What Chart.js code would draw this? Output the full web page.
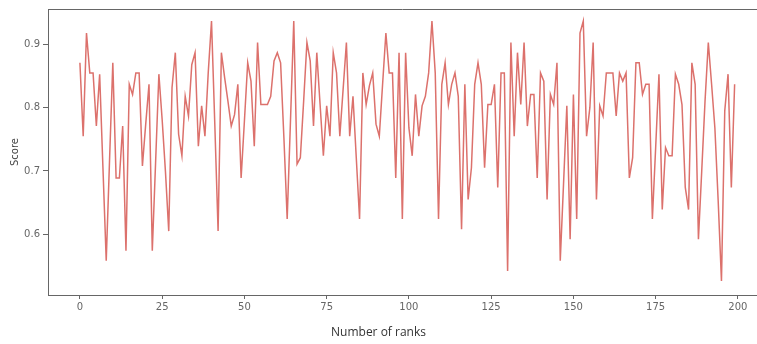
<!DOCTYPE html>
<html>
<head>
<meta charset="utf-8">
<script src="https://cdn.jsdelivr.net/npm/chart.js@4"></script>
<style>
  html, body { margin: 0; padding: 0; background: #fff; overflow: hidden; }
</style>
</head>
<body>
<canvas id="scores" width="757" height="344"></canvas>
<script>
// score per rank
const scores = [
  0.871, 0.755, 0.918, 0.855, 0.855, 0.771, 0.853, 0.705, 0.558, 0.716,
  0.871, 0.689, 0.689, 0.771, 0.574, 0.837, 0.821, 0.855, 0.855, 0.708,
  0.774, 0.837, 0.574, 0.713, 0.853, 0.781, 0.699, 0.605, 0.832, 0.887,
  0.758, 0.724, 0.818, 0.787, 0.868, 0.887, 0.739, 0.803, 0.755, 0.855,
  0.937, 0.774, 0.605, 0.887, 0.847, 0.810, 0.771, 0.789, 0.837, 0.689,
  0.779, 0.871, 0.842, 0.739, 0.903, 0.805, 0.805, 0.805, 0.818, 0.874,
  0.887, 0.871, 0.753, 0.624, 0.779, 0.937, 0.711, 0.721, 0.810, 0.903,
  0.874, 0.771, 0.887, 0.805, 0.724, 0.803, 0.755, 0.887, 0.855, 0.755,
  0.829, 0.903, 0.755, 0.818, 0.721, 0.624, 0.855, 0.805, 0.835, 0.855,
  0.774, 0.755, 0.837, 0.918, 0.855, 0.855, 0.689, 0.887, 0.624, 0.887,
  0.768, 0.724, 0.821, 0.755, 0.803, 0.818, 0.855, 0.937, 0.855, 0.624,
  0.837, 0.871, 0.805, 0.837, 0.855, 0.818, 0.608, 0.837, 0.655, 0.705,
  0.837, 0.871, 0.837, 0.705, 0.805, 0.805, 0.837, 0.674, 0.855, 0.855,
  0.542, 0.903, 0.755, 0.887, 0.805, 0.903, 0.771, 0.821, 0.821, 0.689,
  0.855, 0.842, 0.655, 0.821, 0.805, 0.871, 0.558, 0.680, 0.803, 0.592,
  0.821, 0.624, 0.918, 0.937, 0.755, 0.800, 0.903, 0.655, 0.803, 0.787,
  0.855, 0.855, 0.855, 0.787, 0.855, 0.842, 0.855, 0.689, 0.721, 0.871,
  0.871, 0.821, 0.837, 0.837, 0.624, 0.737, 0.853, 0.639, 0.737, 0.724,
  0.724, 0.853, 0.837, 0.805, 0.674, 0.639, 0.871, 0.837, 0.592, 0.700,
  0.810, 0.903, 0.837, 0.768, 0.653, 0.526, 0.795, 0.853, 0.674, 0.837
];
const xTicks = [0, 25, 50, 75, 100, 125, 150, 175, 200];
const yTicks = [0.6, 0.7, 0.8, 0.9];
const xTitle = 'Number of ranks';
const yTitle = 'Score';

const axisColor = '#666';
const tickFont = { family: 'DejaVu Sans', size: 10 };

// matplotlib-like top spine (right one is cut off in the picture)
const topSpine = {
  id: 'topSpine',
  afterDraw(chart) {
    const { ctx, chartArea } = chart;
    ctx.save();
    ctx.strokeStyle = axisColor;
    ctx.lineWidth = 1;
    ctx.beginPath();
    ctx.moveTo(chartArea.left, chartArea.top + 0.5);
    ctx.lineTo(chartArea.right, chartArea.top + 0.5);
    ctx.stroke();
    ctx.restore();
  }
};

new Chart(document.getElementById('scores'), {
  type: 'line',
  data: {
    datasets: [{
      data: scores.map((s, i) => ({ x: i, y: s })),
      borderColor: '#dc716c',
      borderWidth: 1.5,
      pointRadius: 0,
      tension: 0,
      fill: false
    }]
  },
  options: {
    responsive: false,
    animation: false,
    layout: { padding: { top: 8, right: 0, left: 0, bottom: 0 } },
    plugins: {
      legend: { display: false },
      tooltip: { enabled: false },
      title: {
        display: true,
        position: 'bottom',
        text: xTitle,
        color: '#333',
        font: { family: 'Open Sans', size: 12, weight: 'normal' },
        padding: { top: 0, bottom: 4 }
      }
    },
    scales: {
      x: {
        type: 'linear',
        min: -9.7,
        max: 205.8,
        afterBuildTicks: s => { s.ticks = xTicks.map(v => ({ value: v })); },
        afterFit: s => { s.height = 30.6; },
        grid: { drawOnChartArea: false, drawTicks: true, tickLength: 4, color: axisColor },
        border: { display: true, color: axisColor, width: 1 },
        ticks: { color: '#666', font: tickFont, padding: 2, maxRotation: 0 }
      },
      y: {
        min: 0.504,
        max: 0.956,
        afterBuildTicks: s => { s.ticks = yTicks.map(v => ({ value: v })); },
        afterFit: s => { s.width = 48; },
        grid: { drawOnChartArea: false, drawTicks: true, tickLength: 5, color: axisColor },
        border: { display: true, color: axisColor, width: 1 },
        ticks: { color: '#666', font: tickFont, padding: 3, callback: v => v.toFixed(1) },
        title: {
          display: true,
          text: yTitle,
          color: '#444',
          font: { family: 'DejaVu Sans', size: 10 },
          padding: { top: 9, bottom: 0 }
        }
      }
    }
  },
  plugins: [topSpine]
});
</script>
</body>
</html>
